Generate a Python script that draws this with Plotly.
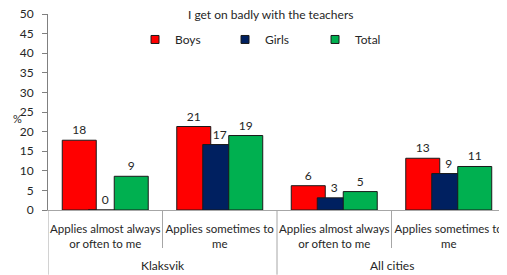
import plotly.graph_objects as go

title = "I get on badly with the teachers"
groups = ["Klaksvik", "All cities"]
categories = ["Applies almost always<br>or often to me", "Applies sometimes to<br>me",
              "Applies almost always<br>or often to me", "Applies sometimes to<br>me"]
series_names = ["Boys", "Girls", "Total"]
boys = [17.8, 21.3, 6.2, 13.2]
girls = [0.0, 16.7, 3.1, 9.3]
total = [8.6, 19.0, 4.7, 11.1]
colors = ["#FF0000", "#002060", "#00B050"]

FONT = "Lato"
TXT = "#262626"
xpos = list(range(len(categories)))
bw = 0.297
offsets = [-0.3755, -0.1485, 0.0785]

fig = go.Figure()
for name, vals, col, off in zip(series_names, [boys, girls, total], colors, offsets):
    fig.add_trace(go.Bar(
        x=xpos, y=vals, width=bw, offset=off, name=name, showlegend=False,
        marker=dict(color=col, line=dict(color="#1a1a1a", width=1)),
        text=[f"{v:.0f}" for v in vals], textposition="outside",
        textfont=dict(family=FONT, size=12, color=TXT), cliponaxis=False,
    ))
    fig.add_trace(go.Scatter(
        x=[None], y=[None], mode="markers", name=name,
        marker=dict(symbol="square", size=8, color=col, line=dict(color="#1a1a1a", width=1)),
    ))

shapes = []
for xb, y1 in [(-0.5, -0.33), (0.5, -0.194), (1.5, -0.33), (2.5, -0.194), (3.5, -0.33)]:
    shapes.append(dict(type="line", xref="x", yref="paper", x0=xb, x1=xb, y0=0, y1=y1,
                       line=dict(color="#a6a6a6", width=1)))

annotations = [
    dict(text=title, xref="paper", yref="paper", x=0.485, y=1, yanchor="middle", yshift=0,
         showarrow=False, font=dict(family=FONT, size=12, color=TXT)),
    dict(text="%", xref="paper", yref="y", x=0, xshift=-37, y=23.3, showarrow=False,
         font=dict(family=FONT, size=11, color=TXT)),
]
for gi, g in enumerate(groups):
    annotations.append(dict(text=g, xref="x", yref="paper", x=gi * 2 + 0.5, y=0, yshift=-55,
                            yanchor="middle", showarrow=False,
                            font=dict(family=FONT, size=12, color=TXT)))

# page body has an 8px margin, so the figure is 8px smaller and margins shifted
fig.update_layout(
    width=499, height=267, barmode="overlay",
    margin=dict(l=40, r=1, t=6, b=65),
    paper_bgcolor="white", plot_bgcolor="white",
    font=dict(family=FONT, size=12, color=TXT),
    showlegend=True,
    legend=dict(orientation="h", x=0.19, y=0.87, xanchor="left", yanchor="middle",
                entrywidth=45, entrywidthmode="pixels", font=dict(family=FONT, size=12, color=TXT),
                bgcolor="rgba(0,0,0,0)", itemclick=False),
    xaxis=dict(range=[-0.5, 3.5], tickvals=xpos, ticktext=categories, ticks="", tickangle=0,
               automargin=False,
               showline=True, linecolor="#a6a6a6", linewidth=1, showgrid=False, zeroline=False,
               tickfont=dict(family=FONT, size=11.5, color=TXT), ticklabelstandoff=8),
    yaxis=dict(range=[0, 50], dtick=5, ticks="outside", ticklen=5, tickcolor="#808080",
               automargin=False, ticklabeloverflow="allow",
               showline=True, linecolor="#808080", linewidth=1, showgrid=False, zeroline=False,
               tickfont=dict(family=FONT, size=12, color=TXT), ticklabelstandoff=6),
    shapes=shapes, annotations=annotations,
)
fig.write_html("out.html")
